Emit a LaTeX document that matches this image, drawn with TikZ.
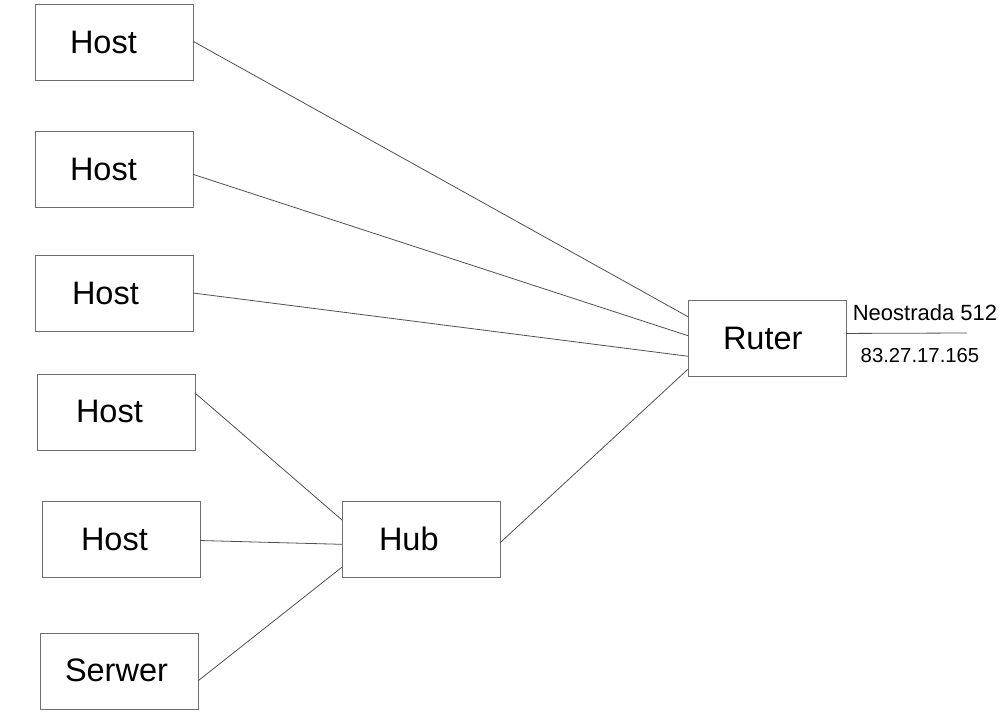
\documentclass[tikz,border=0pt]{standalone}
\usepackage{fontspec}
\setmainfont{Liberation Sans}
\definecolor{netline}{RGB}{80,80,80}
\definecolor{netbox}{RGB}{110,110,110}
\usetikzlibrary{calc}
\tikzset{
  netnode/.style={draw=netbox, line width=1pt, anchor=north west, outer sep=0pt,
    minimum width=158pt, minimum height=76pt, inner ysep=0pt, inner xsep=35pt,
    text width=88pt, align=left, font=\fontsize{32.5}{36}\selectfont},
  wire/.style={netline, line width=0.8pt}
}
\begin{document}
\begin{tikzpicture}[x=1pt,y=-1pt]
\useasboundingbox (0,0) rectangle (1002,715);
% hosts on the left
\node[netnode] (host1) at (35,4) {Host};
\node[netnode] (host2) at (35,131) {Host};
\node[netnode, inner xsep=37pt, text width=84pt] (host3) at (35,255) {Host};
\node[netnode, inner xsep=39pt, text width=80pt, text depth=0pt, text height=21pt] (host4) at (37,374) {Host};
\node[netnode, inner xsep=39pt, text width=80pt] (host5) at (42,501) {Host};
\node[netnode, inner xsep=25pt, text width=108pt, text depth=0pt, text height=21pt] (serwer) at (40,633) {Serwer};
% hub and router
\node[netnode, inner xsep=37pt, text width=84pt] (hub) at (342,501) {Hub};
\node[netnode] (ruter) at (688,300) {Ruter};
% uplink
\coordinate (wan) at (967,333);
\node[font=\fontsize{22}{24}\selectfont] (neo) at (925,313) {Neostrada 512};
\node[font=\fontsize{20.3}{22}\selectfont] (ip) at (920,356) {83.27.17.165};
% links to the router
\draw[wire] ($(host1.north east)!0.49!(host1.south east)$) -- ($(ruter.north west)!0.22!(ruter.south west)$);
\draw[wire] ($(host2.north east)!0.57!(host2.south east)$) -- ($(ruter.north west)!0.47!(ruter.south west)$);
\draw[wire] ($(host3.north east)!0.5!(host3.south east)$) -- ($(ruter.north west)!0.74!(ruter.south west)$);
\draw[wire] ($(hub.north east)!0.55!(hub.south east)$) -- ($(ruter.north west)!0.91!(ruter.south west)$);
% links to the hub
\draw[wire] ($(host4.north east)!0.25!(host4.south east)$) -- ($(hub.north west)!0.25!(hub.south west)$);
\draw[wire] ($(host5.north east)!0.52!(host5.south east)$) -- ($(hub.north west)!0.57!(hub.south west)$);
\draw[wire] ($(serwer.north east)!0.63!(serwer.south east)$) -- ($(hub.north west)!0.87!(hub.south west)$);
\draw[wire] ($(ruter.north east)!0.44!(ruter.south east)$) -- (wan);
\end{tikzpicture}
\end{document}
